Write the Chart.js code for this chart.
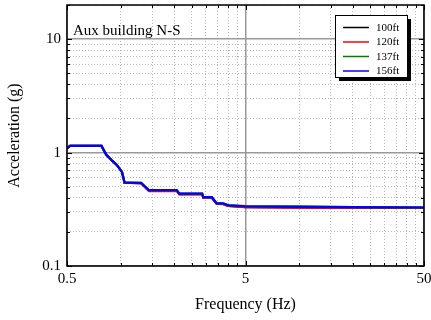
<!DOCTYPE html>
<html>
<head>
<meta charset="utf-8">
<script src="https://cdn.jsdelivr.net/npm/chart.js@4/dist/chart.umd.min.js"></script>
<style>
  html, body { margin: 0; padding: 0; background: #fff; }
  #wrap { width: 431px; height: 320px; }
</style>
</head>
<body>
<div id="wrap"><canvas id="chart"></canvas></div>
<script>
// frequency points (Hz) shared by all four floor spectra
const FREQ = [0.5, 0.52, 0.78, 0.83, 0.89, 0.95, 1.016, 1.05, 1.30, 1.44, 2.06, 2.13, 2.86, 2.90, 3.24, 3.45, 3.74, 3.99, 5, 10, 20, 50];

// acceleration (g) per elevation
const ACC_100 = [1.09, 1.146, 1.146, 0.954, 0.855, 0.779, 0.676, 0.544, 0.538, 0.46, 0.459, 0.43, 0.429, 0.399, 0.399, 0.353, 0.352, 0.339, 0.331, 0.328, 0.327, 0.326];
const ACC_120 = [1.09, 1.146, 1.146, 0.954, 0.855, 0.779, 0.676, 0.544, 0.536, 0.458, 0.457, 0.428, 0.427, 0.398, 0.398, 0.352, 0.351, 0.338, 0.330, 0.326, 0.326, 0.325];
const ACC_137 = [1.09, 1.146, 1.146, 0.954, 0.855, 0.779, 0.676, 0.544, 0.540, 0.466, 0.466, 0.435, 0.435, 0.404, 0.404, 0.357, 0.357, 0.344, 0.338, 0.335, 0.330, 0.328];
const ACC_156 = [1.09, 1.146, 1.146, 0.954, 0.855, 0.779, 0.676, 0.544, 0.540, 0.466, 0.466, 0.435, 0.435, 0.404, 0.404, 0.357, 0.357, 0.343, 0.336, 0.332, 0.330, 0.328];

const SERIES_NAMES = ['100ft', '120ft', '137ft', '156ft'];
const SERIES_COLORS = ['#000000', '#ff0000', '#008000', '#0000ff'];

// grid / tick positions
const X_TICKS = [0.5, 1, 1.5, 2, 2.5, 3, 3.5, 4, 4.5, 5, 10, 15, 20, 25, 30, 35, 40, 45, 50];
const X_LABELS = [0.5, 5, 50];
const Y_TICKS = [0.1, 0.2, 0.3, 0.4, 0.5, 0.6, 0.7, 0.8, 0.9, 1, 2, 3, 4, 5, 6, 7, 8, 9, 10, 20];
const Y_LABELS = [0.1, 1, 10];

const TITLE_TEXT = 'Aux building N-S';
const FONT = '"Liberation Serif", "Times New Roman", serif';

const isMajorX = v => X_LABELS.includes(v);
const isMajorY = v => Y_LABELS.includes(v);

// frame, inner ticks, note and boxed legend drawn on top of the plot
const decorPlugin = {
	id: 'decor',
	afterDatasetsDraw(chart) {
		const { ctx, chartArea: a, scales } = chart;
		ctx.save();
		ctx.strokeStyle = '#000';
		ctx.lineWidth = 1;

		// inner tick marks on all four sides
		ctx.beginPath();
		Y_TICKS.forEach(v => {
			const y = Math.round(scales.y.getPixelForValue(v)) + 0.5;
			const len = isMajorY(v) ? 5 : 3;
			ctx.moveTo(a.left, y); ctx.lineTo(a.left + len, y);
			ctx.moveTo(a.right, y); ctx.lineTo(a.right - len, y);
		});
		X_TICKS.forEach(v => {
			const x = Math.round(scales.x.getPixelForValue(v)) + 0.5;
			const len = isMajorX(v) ? 5 : 3;
			ctx.moveTo(x, a.bottom); ctx.lineTo(x, a.bottom - len);
			ctx.moveTo(x, a.top); ctx.lineTo(x, a.top + len);
		});
		ctx.stroke();

		// frame
		ctx.lineWidth = 1.5;
		ctx.strokeRect(a.left, a.top, a.right - a.left, a.bottom - a.top);

		// note in the upper-left corner
		ctx.fillStyle = '#000';
		ctx.font = '15px ' + FONT;
		ctx.textBaseline = 'alphabetic';
		ctx.textAlign = 'left';
		ctx.fillText(TITLE_TEXT, 73, 35);

		// legend box with drop shadow
		const bx = 335, by = 15, bw = 72, bh = 62;
		ctx.fillStyle = '#000';
		ctx.fillRect(bx + 4, by + 4, bw, bh);
		ctx.fillStyle = '#fff';
		ctx.fillRect(bx, by, bw, bh);
		ctx.lineWidth = 1;
		ctx.strokeStyle = '#000';
		ctx.strokeRect(bx + 0.5, by + 0.5, bw, bh);

		ctx.font = '11px ' + FONT;
		ctx.textBaseline = 'middle';
		chart.data.datasets.forEach((ds, i) => {
			const y = by + 12.5 + i * 14.5;
			ctx.strokeStyle = ds.borderColor;
			ctx.lineWidth = 1.5;
			ctx.beginPath();
			ctx.moveTo(bx + 8, y); ctx.lineTo(bx + 34, y);
			ctx.stroke();
			ctx.fillStyle = '#000';
			ctx.fillText(ds.label, bx + 41, y + 0.5);
		});
		ctx.restore();
	}
};

const seriesData = [ACC_100, ACC_120, ACC_137, ACC_156];

new Chart(document.getElementById('chart'), {
	type: 'line',
	data: {
		labels: FREQ,
		datasets: seriesData.map((d, i) => ({
			label: SERIES_NAMES[i],
			data: d,
			borderColor: SERIES_COLORS[i],
			backgroundColor: SERIES_COLORS[i],
			borderWidth: 2.2,
			pointRadius: 0,
			tension: 0,
			fill: false,
			order: seriesData.length - i // last series (156ft) drawn on top
		}))
	},
	options: {
		responsive: true,
		maintainAspectRatio: false,
		animation: false,
		layout: { padding: { top: 5, right: 7, left: 0, bottom: 0 } },
		plugins: {
			legend: { display: false },
			tooltip: { enabled: false }
		},
		scales: {
			x: {
				type: 'logarithmic',
				min: 0.5,
				max: 50,
				afterBuildTicks: s => { s.ticks = X_TICKS.map(v => ({ value: v })); },
				afterFit: s => { s.height = 54; s.paddingLeft = 0; s.paddingRight = 0; },
				ticks: {
					autoSkip: false,
					maxRotation: 0,
					padding: 4,
					color: '#000',
					font: { family: FONT, size: 15 },
					callback: v => (isMajorX(v) ? String(v) : '')
				},
				grid: {
					drawTicks: false,
					color: c => (c.tick && isMajorX(c.tick.value) ? '#999999' : '#b8b8b8'),
					lineWidth: c => (c.tick && isMajorX(c.tick.value) ? 1.5 : 1)
				},
				border: {
					display: false,
					dash: c => (c.tick && isMajorX(c.tick.value) ? [] : [1, 2])
				},
				title: {
					display: true,
					text: 'Frequency (Hz)',
					color: '#000',
					font: { family: FONT, size: 16 },
					padding: { top: 4, bottom: 6 }
				}
			},
			y: {
				type: 'logarithmic',
				min: 0.1,
				max: 20,
				afterBuildTicks: s => { s.ticks = Y_TICKS.map(v => ({ value: v })); },
				afterFit: s => { s.width = 67; s.paddingTop = 0; s.paddingBottom = 0; },
				ticks: {
					autoSkip: false,
					padding: 6,
					color: '#000',
					font: { family: FONT, size: 15 },
					callback: v => (isMajorY(v) ? String(v) : '')
				},
				grid: {
					drawTicks: false,
					color: c => (c.tick && isMajorY(c.tick.value) ? '#999999' : '#b8b8b8'),
					lineWidth: c => (c.tick && isMajorY(c.tick.value) ? 1.5 : 1)
				},
				border: {
					display: false,
					dash: c => (c.tick && isMajorY(c.tick.value) ? [] : [1, 2])
				},
				title: {
					display: true,
					text: 'Acceleration (g)',
					color: '#000',
					font: { family: FONT, size: 16 },
					padding: { top: 5, bottom: 4 }
				}
			}
		}
	},
	plugins: [decorPlugin]
});
</script>
</body>
</html>
